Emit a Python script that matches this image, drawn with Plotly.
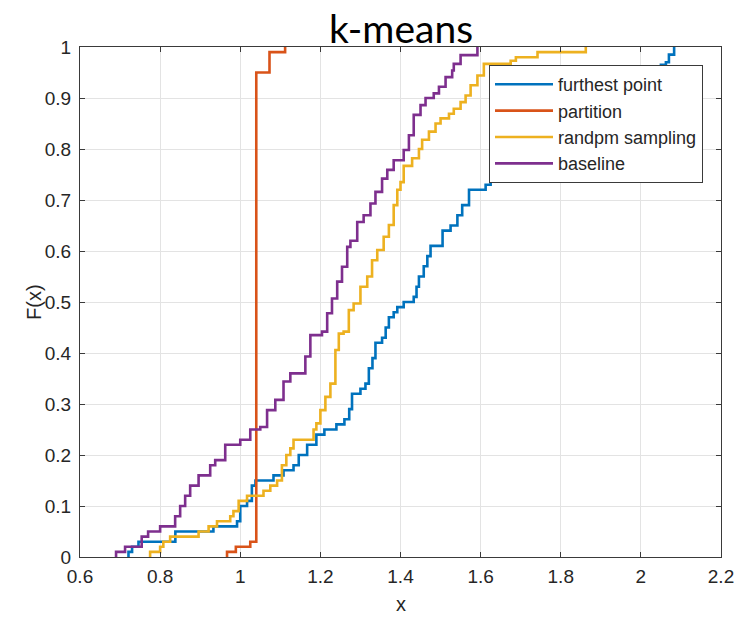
import plotly.graph_objects as go

# ---- data (step positions x and ECDF levels F after each step) ----
furthest_x = [0.721, 0.73, 0.746, 0.838, 0.933, 0.992, 1.0, 1.017, 1.029, 1.038, 1.083, 1.108,
              1.133, 1.146, 1.167, 1.19, 1.21, 1.24, 1.26, 1.272, 1.279, 1.3, 1.3125, 1.321,
              1.33, 1.3375, 1.354, 1.363, 1.371, 1.383, 1.392, 1.408, 1.433, 1.44, 1.446,
              1.458, 1.467, 1.475, 1.505, 1.525, 1.542, 1.554, 1.571, 1.6125, 1.625, 1.642,
              1.66, 1.70, 1.75, 1.80, 1.87, 1.93, 2.0, 2.05, 2.0625, 2.07, 2.083]
furthest_F = [0.01, 0.02, 0.03, 0.05, 0.06, 0.07, 0.10, 0.11, 0.14, 0.15, 0.16, 0.17,
              0.18, 0.20, 0.22, 0.24, 0.25, 0.26, 0.27, 0.29, 0.32, 0.33, 0.34, 0.37,
              0.39, 0.42, 0.43, 0.45, 0.47, 0.48, 0.49, 0.50, 0.51, 0.53, 0.55,
              0.57, 0.59, 0.61, 0.64, 0.65, 0.67, 0.69, 0.72, 0.73, 0.74, 0.755,
              0.77, 0.80, 0.83, 0.86, 0.89, 0.92, 0.94, 0.965, 0.97, 0.985, 1.0]

partition_x = [0.967, 0.989, 1.025, 1.04, 1.073, 1.112]
partition_F = [0.01, 0.02, 0.03, 0.95, 0.99, 1.0]

random_x = [0.775, 0.8, 0.808, 0.825, 0.896, 0.921, 0.942, 0.975, 0.983, 0.996, 1.017, 1.058,
            1.075, 1.092, 1.104, 1.115, 1.125, 1.133, 1.183, 1.19, 1.2, 1.2125, 1.225, 1.2375,
            1.246, 1.258, 1.271, 1.283, 1.3, 1.317, 1.329, 1.342, 1.358, 1.371, 1.383, 1.392,
            1.4, 1.408, 1.429, 1.446, 1.454, 1.471, 1.4875, 1.5, 1.521, 1.533, 1.55, 1.5625,
            1.575, 1.592, 1.608, 1.675, 1.688, 1.742, 1.8625]
random_F = [0.01, 0.02, 0.03, 0.04, 0.05, 0.06, 0.07, 0.08, 0.09, 0.11, 0.12, 0.13,
            0.14, 0.15, 0.18, 0.20, 0.213, 0.23, 0.25, 0.262, 0.288, 0.314, 0.34, 0.406,
            0.438, 0.442, 0.484, 0.497, 0.53, 0.55, 0.582, 0.602, 0.628, 0.651, 0.69, 0.72,
            0.735, 0.767, 0.782, 0.80, 0.818, 0.834, 0.85, 0.86, 0.869, 0.879, 0.892, 0.905,
            0.925, 0.944, 0.967, 0.973, 0.98, 0.99, 1.0]

baseline_x = [0.69, 0.7125, 0.754, 0.77, 0.8, 0.8375, 0.85, 0.8625, 0.875, 0.896, 0.925, 0.9375,
              0.9625, 1.0, 1.025, 1.05, 1.067, 1.0875, 1.108, 1.125, 1.1625, 1.175, 1.204, 1.217,
              1.229, 1.242, 1.254, 1.267, 1.275, 1.292, 1.308, 1.325, 1.3375, 1.354, 1.367, 1.383,
              1.408, 1.421, 1.433, 1.45, 1.4625, 1.483, 1.496, 1.5125, 1.529, 1.533, 1.55, 1.592]
baseline_F = [0.01, 0.02, 0.04, 0.05, 0.06, 0.08, 0.10, 0.12, 0.14, 0.16, 0.18, 0.19,
              0.22, 0.23, 0.25, 0.255, 0.288, 0.308, 0.344, 0.36, 0.393, 0.435, 0.442, 0.478,
              0.507, 0.54, 0.569, 0.608, 0.62, 0.657, 0.67, 0.693, 0.716, 0.742, 0.759, 0.778,
              0.798, 0.827, 0.867, 0.886, 0.9, 0.909, 0.922, 0.941, 0.954, 0.967, 0.984, 1.0]

series = [
    ("furthest point", furthest_x, furthest_F, "#0072BD"),
    ("partition", partition_x, partition_F, "#D95319"),
    ("randpm sampling", random_x, random_F, "#EDB120"),
    ("baseline", baseline_x, baseline_F, "#7E2F8E"),
]

x_ticks = [0.6, 0.8, 1.0, 1.2, 1.4, 1.6, 1.8, 2.0, 2.2]
y_ticks = [0, 0.1, 0.2, 0.3, 0.4, 0.5, 0.6, 0.7, 0.8, 0.9, 1.0]

fig = go.Figure()
for name, xs, fs, color in series:
    fig.add_trace(go.Scatter(
        x=[xs[0]] + xs, y=[0] + fs, mode="lines", name=name,
        line=dict(color=color, width=2.6, shape="hv"),
    ))

axis_color = "#3a3a3a"
font_family = "Liberation Sans, Arial, sans-serif"
tick_font = dict(family=font_family, size=19, color="#262626")
common = dict(showgrid=True, gridcolor="#e3e3e3", gridwidth=1, showline=True,
              linecolor=axis_color, linewidth=1, mirror="ticks", ticks="inside",
              ticklen=5, tickcolor=axis_color, tickfont=tick_font, zeroline=False,
              automargin=False)

fig.update_xaxes(range=[0.6, 2.2], tickvals=x_ticks, ticklabelstandoff=2, **common)
fig.update_yaxes(range=[0, 1], tickvals=y_ticks, ticklabelstandoff=4, **common)

fig.update_layout(
    width=735, height=617,
    margin=dict(l=80, r=14, t=47, b=60, autoexpand=False),
    plot_bgcolor="white", paper_bgcolor="white",
    title=dict(text="k-means", x=(401) / 735, xanchor="center", y=1 - 29 / 617, yanchor="middle",
               yref="container", font=dict(family="Lato, sans-serif", size=39, color="#000000")),
    showlegend=True,
    legend=dict(x=(489 - 80) / 641, y=(557 - 65) / 510, xanchor="left", yanchor="top",
                bgcolor="white", bordercolor="#3a3a3a", borderwidth=1,
                font=dict(family=font_family, size=18, color="#262626"),
                tracegroupgap=0, itemwidth=58),
    annotations=[
        dict(text="x", xref="paper", yref="paper", x=0.5, y=-47 / 510, xanchor="center",
             yanchor="middle", showarrow=False, font=dict(family=font_family, size=20, color="#262626")),
        dict(text="F(x)", xref="paper", yref="paper", x=-46 / 641, y=0.5, xanchor="center",
             yanchor="middle", showarrow=False, textangle=-90,
             font=dict(family=font_family, size=20, color="#262626")),
    ],
)

fig.write_html("out.html", config={"displayModeBar": False},
               post_script="document.body.style.margin='0';")
